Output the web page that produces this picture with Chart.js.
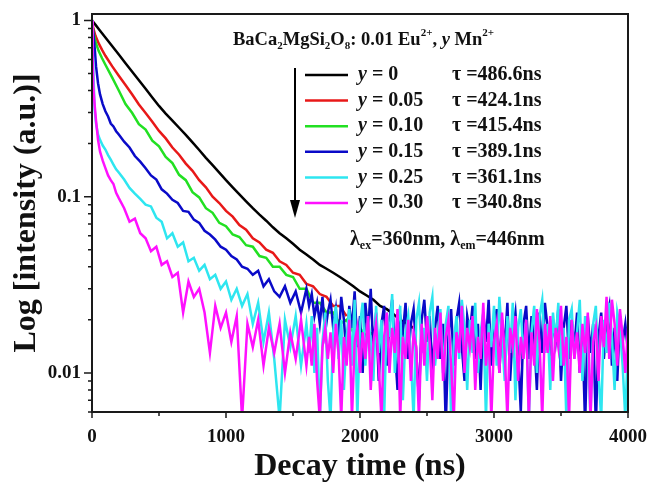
<!DOCTYPE html>
<html lang="en">
<head>
<meta charset="UTF-8">
<title>Decay curves BaCa2MgSi2O8: Eu, Mn</title>
<style>
  body { margin: 0; background: #fff; }
  #wrap { width: 648px; height: 489px; }
</style>
</head>
<body>
<div id="wrap"><canvas id="decayChart" width="648" height="489"></canvas></div>
<script src="https://cdn.jsdelivr.net/npm/chart.js@4/dist/chart.umd.min.js"></script>
<script>
// ---- data ----
// time axis for the smooth curves (ns)
const timeSmooth = [0, 10, 25, 50, 75,
  100, 150, 200, 250, 300, 350, 400, 450, 500, 550,
  600, 650, 700, 750, 800, 850, 900, 950, 1000, 1050,
  1100, 1150, 1200, 1250, 1300, 1350, 1400, 1450, 1500, 1550,
  1600, 1650, 1700, 1750, 1800, 1850, 1900, 1950, 2000, 2050,
  2100, 2150, 2200, 2250, 2300, 2350, 2400];

// time axis for the noisy curves (ns)
const timeNoisy = [0, 5, 10, 20, 30, 45, 60, 80, 100, 120, 140, 160, 180, 200,
  240, 280, 320, 360, 400, 440, 480, 520, 560, 600,
  640, 680, 720, 760, 800, 840, 880, 920, 960, 1000,
  1040, 1080, 1120, 1160, 1200, 1240, 1280, 1320, 1360, 1400,
  1440, 1480, 1520, 1560, 1600,
  1620, 1640, 1660, 1680, 1700, 1720, 1740, 1760, 1780, 1800,
  1820, 1840, 1860, 1880, 1900, 1920, 1940, 1960, 1980, 2000,
  2020, 2040, 2060, 2080, 2100, 2120, 2140, 2160, 2180, 2200,
  2220, 2240, 2260, 2280, 2300, 2320, 2340, 2360, 2380, 2400,
  2420, 2440, 2460, 2480, 2500, 2520, 2540, 2560, 2580, 2600,
  2620, 2640, 2660, 2680, 2700, 2720, 2740, 2760, 2780, 2800,
  2820, 2840, 2860, 2880, 2900, 2920, 2940, 2960, 2980, 3000,
  3020, 3040, 3060, 3080, 3100, 3120, 3140, 3160, 3180, 3200,
  3220, 3240, 3260, 3280, 3300, 3320, 3340, 3360, 3380, 3400,
  3420, 3440, 3460, 3480, 3500, 3520, 3540, 3560, 3580, 3600,
  3620, 3640, 3660, 3680, 3700, 3720, 3740, 3760, 3780, 3800,
  3820, 3840, 3860, 3880, 3900, 3920, 3940, 3960, 3980, 4000];

// y = 0
const valsY000 = [1.0, 0.978, 0.946, 0.894, 0.846,
  0.80, 0.715, 0.64, 0.572, 0.511, 0.457, 0.409, 0.365, 0.327, 0.296,
  0.270, 0.246, 0.224, 0.203, 0.184, 0.166, 0.151, 0.137, 0.124, 0.113,
  0.103, 0.094, 0.086, 0.079, 0.073, 0.067, 0.062, 0.058, 0.054, 0.050,
  0.047, 0.044, 0.041, 0.039, 0.037, 0.035, 0.033, 0.031, 0.029, 0.0275,
  0.026, 0.024, 0.023, 0.0215, 0.020, 0.019, 0.018];

// y = 0.05
const valsY005 = [1.0, 0.90, 0.82, 0.74, 0.68,
  0.63, 0.55, 0.485, 0.43, 0.38, 0.333, 0.298, 0.266, 0.236, 0.214,
  0.19, 0.173, 0.154, 0.14, 0.124, 0.113, 0.10, 0.092, 0.083, 0.077,
  0.069, 0.065, 0.058, 0.055, 0.050, 0.048, 0.043, 0.041, 0.037, 0.036,
  0.032, 0.031, 0.028, 0.027, 0.024, 0.024, 0.021];

// y = 0.10
const valsY010 = [1.0, 0.86, 0.76, 0.67, 0.61,
  0.56, 0.475, 0.40, 0.335, 0.298, 0.258, 0.24, 0.208, 0.193, 0.168,
  0.155, 0.133, 0.124, 0.106, 0.099, 0.086, 0.081, 0.071, 0.068, 0.061,
  0.059, 0.053, 0.052, 0.046, 0.045, 0.040, 0.040, 0.036, 0.035, 0.030,
  0.030, 0.025, 0.025, 0.022, 0.022, 0.019, 0.020, 0.017, 0.018, 0.016,
  0.017, 0.015, 0.016];

// y = 0.15
const valsY015 = [1.0, 0.92, 0.85, 0.70, 0.55, 0.44, 0.38, 0.335, 0.305, 0.285, 0.26, 0.25, 0.235, 0.225,
  0.205, 0.19, 0.17, 0.158, 0.145, 0.132, 0.125, 0.11, 0.104, 0.096,
  0.092, 0.083, 0.082, 0.074, 0.071, 0.064, 0.061, 0.057, 0.052, 0.050,
  0.046, 0.044, 0.040, 0.039, 0.036, 0.038, 0.031, 0.034, 0.029, 0.027,
  0.031, 0.025, 0.029, 0.022, 0.030,
  0.024, 0.028, 0.021, 0.025, 0.019, 0.027, 0.017, 0.022, 0.026, 0.018,
  0.023, 0.015, 0.027, 0.020, 0.012, 0.024, 0.018, 0.029, 0.014, 0.021,
  0.010, 0.025, 0.017, 0.030, 0.013, 0.022, 0.009, 0.019, 0.024, 0.011,
  0.020, 0.026, 0.014, 0.008, 0.021, 0.017, 0.025, 0.012, 0.019, 0.023,
  0.013, 0.007, 0.020, 0.026, 0.015, 0.021, 0.010, 0.018, 0.024, 0.012,
  0.019, 0.005, 0.016, 0.023, 0.011, 0.020, 0.025, 0.014, 0.009, 0.021,
  0.017, 0.024, 0.012, 0.019, 0.008, 0.022, 0.015, 0.026, 0.011, 0.018,
  0.023, 0.010, 0.020, 0.014, 0.025, 0.009, 0.017, 0.022, 0.013, 0.006,
  0.019, 0.024, 0.012, 0.021, 0.016, 0.008, 0.022, 0.013, 0.025, 0.018,
  0.011, 0.020, 0.015, 0.023, 0.009, 0.018, 0.024, 0.012, 0.020, 0.014,
  0.022, 0.010, 0.017, 0.005, 0.021, 0.013, 0.019, 0.005, 0.016, 0.022,
  0.012, 0.020, 0.024, 0.011, 0.018, 0.009, 0.021, 0.015, 0.019, 0.013];

// y = 0.25
const valsY025 = [1.0, 0.72, 0.52, 0.31, 0.26, 0.225, 0.21, 0.195, 0.185, 0.172, 0.162, 0.152, 0.143, 0.137,
  0.125, 0.112, 0.104, 0.097, 0.09, 0.088, 0.076, 0.072, 0.058, 0.062,
  0.052, 0.055, 0.043, 0.045, 0.038, 0.041, 0.034, 0.036, 0.030, 0.033,
  0.026, 0.030, 0.024, 0.028, 0.019, 0.025, 0.015, 0.022, 0.012, 0.0055,
  0.020, 0.014, 0.021, 0.011, 0.019,
  0.013, 0.021, 0.010, 0.018, 0.0055, 0.015, 0.022, 0.009, 0.0055, 0.017,
  0.024, 0.012, 0.020, 0.008, 0.016, 0.023, 0.011, 0.026, 0.0055, 0.019,
  0.025, 0.011, 0.021, 0.015, 0.009, 0.024, 0.013, 0.020, 0.0055, 0.022,
  0.016, 0.028, 0.010, 0.019, 0.024, 0.007, 0.017, 0.021, 0.012, 0.0055,
  0.020, 0.025, 0.013, 0.018, 0.009, 0.022, 0.027, 0.011, 0.016, 0.023,
  0.010, 0.019, 0.024, 0.0055, 0.015, 0.021, 0.012, 0.026, 0.018, 0.008,
  0.020, 0.013, 0.025, 0.010, 0.017, 0.022, 0.0055, 0.019, 0.014, 0.024,
  0.011, 0.027, 0.016, 0.009, 0.021, 0.013, 0.025, 0.007, 0.018, 0.023,
  0.012, 0.020, 0.0055, 0.017, 0.024, 0.010, 0.021, 0.026, 0.013, 0.019,
  0.008, 0.022, 0.015, 0.025, 0.011, 0.018, 0.0055, 0.020, 0.023, 0.012,
  0.017, 0.026, 0.009, 0.021, 0.014, 0.0055, 0.019, 0.024, 0.010, 0.0055,
  0.020, 0.013, 0.025, 0.016, 0.008, 0.022, 0.018, 0.011, 0.0055, 0.015];

// y = 0.30
const valsY030 = [1.0, 0.6, 0.42, 0.33, 0.27, 0.21, 0.18, 0.16, 0.145, 0.132, 0.124, 0.118, 0.105, 0.098,
  0.086, 0.072, 0.075, 0.062, 0.058, 0.049, 0.052, 0.041, 0.043, 0.035,
  0.037, 0.022, 0.033, 0.027, 0.030, 0.022, 0.013, 0.024, 0.018, 0.022,
  0.015, 0.021, 0.0055, 0.019, 0.014, 0.020, 0.011, 0.018, 0.013, 0.019,
  0.010, 0.017, 0.012, 0.020, 0.011,
  0.016, 0.011, 0.019, 0.009, 0.0055, 0.014, 0.018, 0.012, 0.017, 0.010,
  0.019, 0.013, 0.0055, 0.016, 0.011, 0.020, 0.0055, 0.015, 0.018, 0.010,
  0.017, 0.012, 0.021, 0.008, 0.015, 0.019, 0.011, 0.0055, 0.016, 0.022,
  0.010, 0.018, 0.013, 0.023, 0.0055, 0.016, 0.012, 0.020, 0.009, 0.017,
  0.014, 0.0055, 0.019, 0.011, 0.021, 0.015, 0.007, 0.018, 0.012, 0.022,
  0.009, 0.016, 0.020, 0.011, 0.0055, 0.017, 0.013, 0.024, 0.010, 0.018,
  0.014, 0.021, 0.008, 0.016, 0.012, 0.025, 0.011, 0.017, 0.0055, 0.015,
  0.019, 0.010, 0.022, 0.013, 0.0055, 0.018, 0.014, 0.021, 0.009, 0.016,
  0.012, 0.020, 0.0055, 0.017, 0.011, 0.023, 0.015, 0.0055, 0.019, 0.013,
  0.021, 0.009, 0.018, 0.014, 0.024, 0.011, 0.016, 0.0055, 0.020, 0.012,
  0.017, 0.010, 0.019, 0.013, 0.022, 0.0055, 0.015, 0.018, 0.009, 0.021,
  0.014, 0.027, 0.012, 0.026, 0.019, 0.011, 0.023, 0.016, 0.010, 0.018];

const seriesLabels = ['0', '0.05', '0.10', '0.15', '0.25', '0.30'];
const tauLabels = ['486.6', '424.1', '415.4', '389.1', '361.1', '340.8'];
const seriesColors = ['#000000', '#e81818', '#22e022', '#0a0ac8', '#2ee6f0', '#ff10ff'];

const xMajorTicks = [0, 1000, 2000, 3000, 4000];
const xMinorTicks = [500, 1500, 2500, 3500];
const yMajorTicks = [0.01, 0.1, 1];
const yTickLabels = ['0.01', '0.1', '1'];

// ---- build datasets ----
function toPoints(times, vals) {
  return vals.map((v, i) => ({ x: times[i], y: v }));
}
const seriesData = [
  toPoints(timeSmooth, valsY000),
  toPoints(timeSmooth, valsY005),
  toPoints(timeSmooth, valsY010),
  toPoints(timeNoisy, valsY015),
  toPoints(timeNoisy, valsY025),
  toPoints(timeNoisy, valsY030)
];
const datasets = seriesData.map((d, i) => ({
  label: 'y = ' + seriesLabels[i],
  data: d,
  borderColor: seriesColors[i],
  backgroundColor: seriesColors[i],
  borderWidth: 2.5,
  pointRadius: 0,
  tension: 0,
  order: 6 - i   // last series is drawn on top
}));

// minor log ticks 0.006 .. 1
const yAllTicks = [];
[0.001, 0.01, 0.1].forEach(dec => {
  for (let k = 1; k <= 9; k++) {
    const v = +(dec * k).toPrecision(3);
    if (v >= 0.006 && v <= 1) yAllTicks.push(v);
  }
});
yAllTicks.push(1);

const serif = "'Liberation Serif', 'Times New Roman', serif";

// frame, tick marks and the inset legend / annotations
const decorPlugin = {
  id: 'decor',
  afterDraw(chart) {
    const ctx = chart.ctx;
    const a = chart.chartArea;
    const xs = chart.scales.x, ys = chart.scales.y;
    ctx.save();
    ctx.strokeStyle = '#1a1a1a';
    ctx.lineWidth = 2;
    ctx.strokeRect(a.left, a.top, a.right - a.left, a.bottom - a.top);

    // tick marks pointing outwards
    ctx.lineWidth = 1.5;
    ctx.beginPath();
    xMajorTicks.forEach(v => { const p = xs.getPixelForValue(v); ctx.moveTo(p, a.bottom); ctx.lineTo(p, a.bottom + 6); });
    xMinorTicks.forEach(v => { const p = xs.getPixelForValue(v); ctx.moveTo(p, a.bottom); ctx.lineTo(p, a.bottom + 4); });
    yAllTicks.forEach(v => {
      const p = ys.getPixelForValue(v);
      const len = yMajorTicks.includes(v) ? 8 : 4;
      ctx.moveTo(a.left, p); ctx.lineTo(a.left - len, p);
    });
    ctx.stroke();

    // text runs with sub/superscripts
    function rich(x, y, runs, size) {
      ctx.textBaseline = 'middle';
      ctx.textAlign = 'left';
      runs.forEach(r => {
        const small = r.sub || r.sup;
        const fs = small ? Math.round(size * 0.62) : size;
        ctx.font = (r.it ? 'italic ' : '') + 'bold ' + fs + 'px ' + serif;
        const dy = r.sub ? size * 0.32 : (r.sup ? -size * 0.36 : 0);
        ctx.fillStyle = '#111';
        ctx.fillText(r.t, x, y + dy);
        x += ctx.measureText(r.t).width;
      });
    }
    rich(233, 40, [
      { t: 'BaCa' }, { t: '2', sub: true }, { t: 'MgSi' }, { t: '2', sub: true },
      { t: 'O' }, { t: '8', sub: true }, { t: ': 0.01 Eu' }, { t: '2+', sup: true },
      { t: ', ' }, { t: 'y', it: true }, { t: ' Mn' }, { t: '2+', sup: true }
    ], 18.5);

    // legend rows
    seriesLabels.forEach((lab, i) => {
      const yy = 75 + i * 25.6;
      ctx.strokeStyle = seriesColors[i];
      ctx.lineWidth = 2.5;
      ctx.beginPath(); ctx.moveTo(305, yy); ctx.lineTo(348, yy); ctx.stroke();
      rich(358, yy, [{ t: 'y', it: true }, { t: ' = ' + lab }], 20);
      rich(452, yy, [{ t: '\u03c4 =' + tauLabels[i] + 'ns' }], 20);
    });

    // arrow
    ctx.strokeStyle = '#000';
    ctx.fillStyle = '#000';
    ctx.lineWidth = 2;
    ctx.beginPath(); ctx.moveTo(295, 68); ctx.lineTo(295, 204); ctx.stroke();
    ctx.beginPath(); ctx.moveTo(290, 200); ctx.lineTo(300, 200); ctx.lineTo(295, 218); ctx.closePath(); ctx.fill();

    rich(350, 240, [
      { t: '\u03bb' }, { t: 'ex', sub: true }, { t: '=360nm, \u03bb' }, { t: 'em', sub: true }, { t: '=446nm' }
    ], 20);
    ctx.restore();
  }
};

const ctx = document.getElementById('decayChart').getContext('2d');
new Chart(ctx, {
  type: 'line',
  data: { datasets },
  options: {
    responsive: false,
    animation: false,
    devicePixelRatio: 1,
    layout: { padding: { top: 14, right: 20, left: 0, bottom: 0 } },
    plugins: { legend: { display: false }, tooltip: { enabled: false } },
    scales: {
      x: {
        type: 'linear', min: 0, max: 4000,
        afterFit: s => { s.height = 77; s.paddingLeft = 0; s.paddingRight = 0; },
        afterBuildTicks: s => { s.ticks = xMajorTicks.map(v => ({ value: v })); },
        grid: { display: false, drawTicks: false },
        border: { display: false },
        ticks: { padding: 14, color: '#111', maxRotation: 0, font: { family: serif, size: 19, weight: 'bold' },
                 callback: v => String(v) },
        title: { display: true, text: 'Decay time (ns)', color: '#111',
                 font: { family: serif, size: 32, weight: 'bold' }, padding: { top: 0, bottom: 3 } }
      },
      y: {
        type: 'logarithmic', min: 0.006, max: 1.087,
        afterFit: s => { s.width = 92; s.paddingTop = 0; s.paddingBottom = 0; },
        afterBuildTicks: s => { s.ticks = yAllTicks.map(v => ({ value: v })); },
        grid: { display: false, drawTicks: false },
        border: { display: false },
        ticks: {
          autoSkip: false, padding: 11, color: '#111',
          font: { family: serif, size: 19, weight: 'bold' },
          callback: v => {
            const k = yMajorTicks.findIndex(m => Math.abs(m - v) < 1e-9);
            return k >= 0 ? yTickLabels[k] : '';
          }
        },
        title: { display: true, text: 'Log [intensity (a.u.)]', color: '#111',
                 font: { family: serif, size: 32, weight: 'bold' }, padding: { top: 8, bottom: 0 } }
      }
    }
  },
  plugins: [decorPlugin]
});
</script>
</body>
</html>
